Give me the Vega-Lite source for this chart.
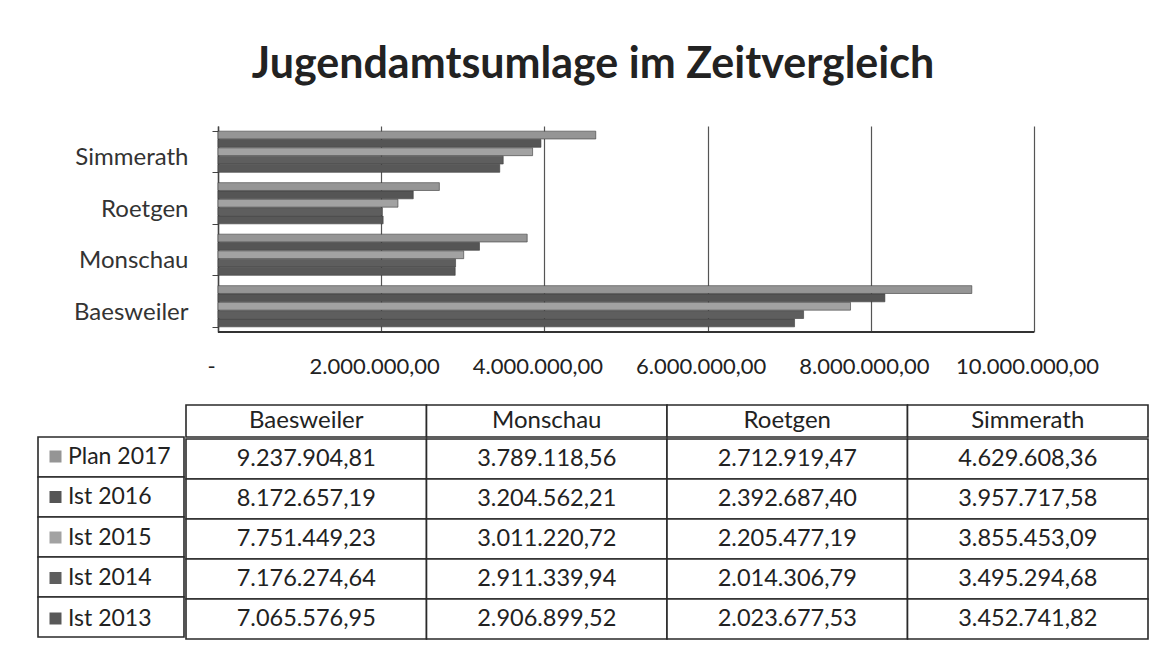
{
  "$schema": "https://vega.github.io/schema/vega-lite/v6.json",
  "background": "white",
  "padding": {"left": 37, "top": 44, "right": 10, "bottom": 10},
  "config": {
    "font": "Lato",
    "view": {"stroke": null},
    "locale": {"number": {"decimal": ",", "thousands": ".", "grouping": [3], "currency": ["", " €"]}}
  },
  "title": {
    "text": "Jugendamtsumlage im Zeitvergleich",
    "font": "Lato",
    "fontSize": 43,
    "fontWeight": "bold",
    "color": "#222222",
    "anchor": "middle",
    "offset": 27
  },
  "datasets": {
    "werte": [
      {"Gemeinde": "Baesweiler", "Reihe": "Plan 2017", "Betrag": 9237904.81},
      {"Gemeinde": "Baesweiler", "Reihe": "Ist 2016", "Betrag": 8172657.19},
      {"Gemeinde": "Baesweiler", "Reihe": "Ist 2015", "Betrag": 7751449.23},
      {"Gemeinde": "Baesweiler", "Reihe": "Ist 2014", "Betrag": 7176274.64},
      {"Gemeinde": "Baesweiler", "Reihe": "Ist 2013", "Betrag": 7065576.95},
      {"Gemeinde": "Monschau", "Reihe": "Plan 2017", "Betrag": 3789118.56},
      {"Gemeinde": "Monschau", "Reihe": "Ist 2016", "Betrag": 3204562.21},
      {"Gemeinde": "Monschau", "Reihe": "Ist 2015", "Betrag": 3011220.72},
      {"Gemeinde": "Monschau", "Reihe": "Ist 2014", "Betrag": 2911339.94},
      {"Gemeinde": "Monschau", "Reihe": "Ist 2013", "Betrag": 2906899.52},
      {"Gemeinde": "Roetgen", "Reihe": "Plan 2017", "Betrag": 2712919.47},
      {"Gemeinde": "Roetgen", "Reihe": "Ist 2016", "Betrag": 2392687.40},
      {"Gemeinde": "Roetgen", "Reihe": "Ist 2015", "Betrag": 2205477.19},
      {"Gemeinde": "Roetgen", "Reihe": "Ist 2014", "Betrag": 2014306.79},
      {"Gemeinde": "Roetgen", "Reihe": "Ist 2013", "Betrag": 2023677.53},
      {"Gemeinde": "Simmerath", "Reihe": "Plan 2017", "Betrag": 4629608.36},
      {"Gemeinde": "Simmerath", "Reihe": "Ist 2016", "Betrag": 3957717.58},
      {"Gemeinde": "Simmerath", "Reihe": "Ist 2015", "Betrag": 3855453.09},
      {"Gemeinde": "Simmerath", "Reihe": "Ist 2014", "Betrag": 3495294.68},
      {"Gemeinde": "Simmerath", "Reihe": "Ist 2013", "Betrag": 3452741.82}
    ]
  },
  "spacing": 27,
  "vconcat": [
    {
      "width": 996,
      "height": 206,
      "data": {"name": "werte"},
      "layer": [
        {
          "mark": {"type": "bar", "stroke": "#3a3a3a", "strokeWidth": 0.6},
          "encoding": {
            "y": {
              "field": "Gemeinde", "type": "nominal",
              "sort": ["Simmerath", "Roetgen", "Monschau", "Baesweiler"],
              "scale": {"paddingInner": 0.2, "paddingOuter": 0.1},
              "axis": {
                "title": null, "offset": -180,
                "labelFont": "Lato", "labelFontSize": 24, "labelColor": "#333333",
                "labelPadding": 24, "labelOffset": 6,
                "domainColor": "#444444", "domainWidth": 1.5,
                "tickColor": "#444444", "tickSize": 6, "tickBand": "extent"
              }
            },
            "yOffset": {
              "field": "Reihe", "type": "nominal",
              "sort": ["Plan 2017", "Ist 2016", "Ist 2015", "Ist 2014", "Ist 2013"],
              "scale": {"paddingInner": 0.06}
            },
            "x": {
              "field": "Betrag", "type": "quantitative",
              "scale": {"domain": [-2205882, 10000000], "nice": false, "zero": false},
              "axis": {
                "title": null,
                "values": [0, 2000000, 4000000, 6000000, 8000000, 10000000],
                "labelExpr": "datum.value == 0 ? '-' : format(datum.value, ',.2f')",
                "labelFont": "Lato", "labelFontSize": 22, "labelColor": "#222222",
                "labelPadding": 24, "labelOffset": -7, "labelOverlap": false, "labelFlush": false,
                "domain": false, "ticks": false,
                "grid": true, "gridColor": "#555555", "gridWidth": 1.2
              }
            },
            "color": {
              "field": "Reihe", "type": "nominal",
              "scale": {
                "domain": ["Plan 2017", "Ist 2016", "Ist 2015", "Ist 2014", "Ist 2013"],
                "range": ["#959595", "#555555", "#a2a2a2", "#5e5e5e", "#585858"]
              },
              "legend": {
                "title": null, "orient": "none", "legendX": 6, "legendY": 319,
                "direction": "vertical", "symbolType": "square", "symbolSize": 144,
                "symbolStrokeWidth": 0, "labelFont": "Lato", "labelFontSize": 23,
                "labelColor": "#222222", "rowPadding": 16.5, "labelOffset": 1, "padding": 0,
                "labelExpr": "datum.label == 'Plan 2017' ? '\u00a0\u00a0Plan 2017' : datum.label"
              }
            }
          }
        },
        {
          "mark": {"type": "rule", "color": "#333333", "strokeWidth": 1.5},
          "encoding": {
            "x": {"datum": 0, "type": "quantitative"},
            "x2": {"datum": 10000000},
            "y": {"value": "height"}
          }
        }
      ]
    },
    {
      "spacing": 0,
      "hconcat": [
        {
          "width": 146,
          "height": 232,
          "data": {"name": "werte"},
          "transform": [{"filter": "datum.Gemeinde == 'Baesweiler'"}],
          "mark": {"type": "rect", "fill": "white", "stroke": "#2a2a2a", "strokeWidth": 1.6},
          "encoding": {
            "y": {
              "field": "Reihe", "type": "nominal",
              "scale": {"domain": ["Plan 2017", "Ist 2016", "Ist 2015", "Ist 2014", "Ist 2013"], "paddingInner": 0, "paddingOuter": 0.4, "align": 1},
              "axis": null
            }
          }
        },
        {
          "spacing": 0,
          "vconcat": [
            {
              "width": 962,
              "height": 32,
              "data": {"name": "werte"},
              "transform": [{"filter": "datum.Reihe == 'Plan 2017'"}],
              "layer": [
                {
                  "mark": {"type": "rect", "fill": "white", "stroke": "#2a2a2a", "strokeWidth": 1.6},
                  "encoding": {
                    "x": {"field": "Gemeinde", "type": "nominal", "scale": {"paddingInner": 0, "paddingOuter": 0}, "axis": null}
                  }
                },
                {
                  "mark": {"type": "text", "font": "Lato", "fontSize": 24, "color": "#222222"},
                  "encoding": {
                    "x": {"field": "Gemeinde", "type": "nominal", "axis": null},
                    "text": {"field": "Gemeinde", "type": "nominal"}
                  }
                }
              ]
            },
            {
              "width": 962,
              "height": 200,
              "data": {"name": "werte"},
              "layer": [
                {
                  "mark": {"type": "rect", "fill": "white", "stroke": "#2a2a2a", "strokeWidth": 1.6},
                  "encoding": {
                    "x": {"field": "Gemeinde", "type": "nominal", "scale": {"paddingInner": 0, "paddingOuter": 0}, "axis": null},
                    "y": {"field": "Reihe", "type": "nominal", "scale": {"domain": ["Plan 2017", "Ist 2016", "Ist 2015", "Ist 2014", "Ist 2013"], "paddingInner": 0, "paddingOuter": 0}, "axis": null}
                  }
                },
                {
                  "mark": {"type": "text", "font": "Lato", "fontSize": 23.5, "color": "#222222"},
                  "encoding": {
                    "x": {"field": "Gemeinde", "type": "nominal", "axis": null},
                    "y": {"field": "Reihe", "type": "nominal", "axis": null},
                    "text": {"field": "Betrag", "type": "quantitative", "format": ",.2f"}
                  }
                }
              ]
            }
          ]
        }
      ]
    }
  ]
}
